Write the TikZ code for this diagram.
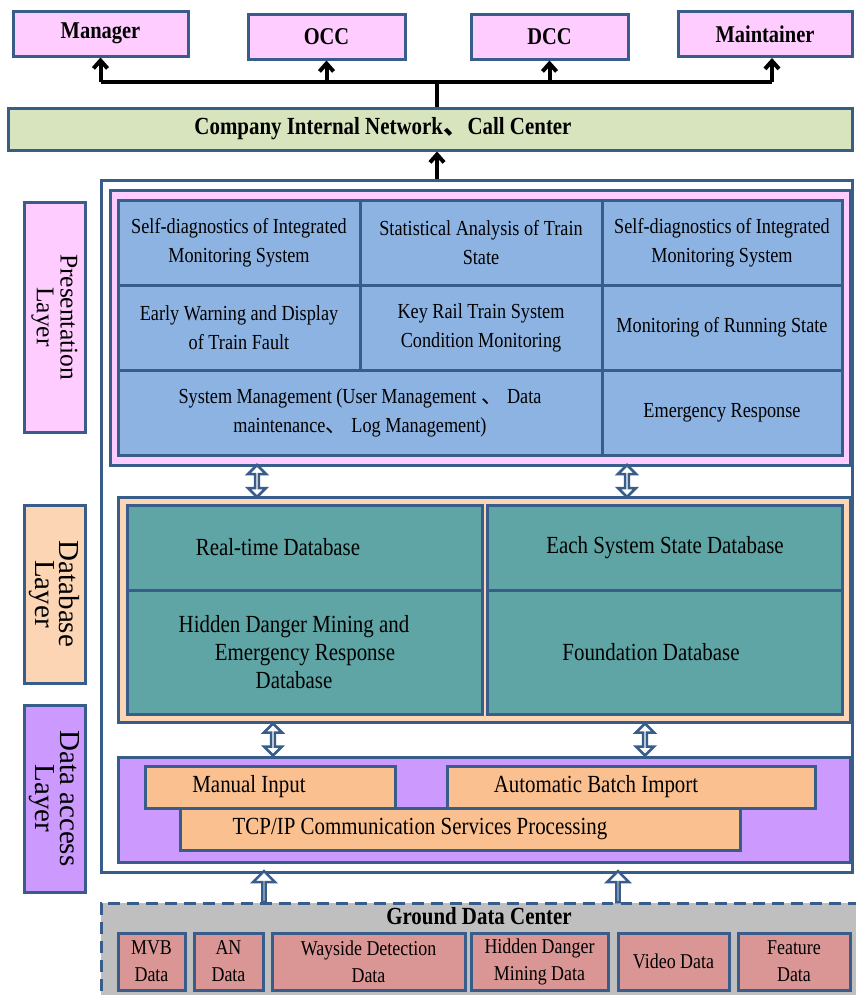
\documentclass[tikz,border=0pt]{standalone}
\usepackage{fontspec}
\setmainfont[FakeStretch=0.85]{Liberation Serif}
\newfontfamily\labelfont{Liberation Serif}
\newfontfamily\cjk{Noto Sans CJK SC}
\usetikzlibrary{arrows.meta,shapes.arrows}

\newdimen\pxu \pxu=0.02cm
\newcommand{\cjkcomma}{{\cjk 、}}

\definecolor{edgeblue}{RGB}{56,93,138}
\definecolor{userpink}{RGB}{255,204,255}
\definecolor{netgreen}{RGB}{215,228,189}
\definecolor{cellblue}{RGB}{141,179,226}
\definecolor{dbpeach}{RGB}{252,213,181}
\definecolor{dbteal}{RGB}{96,165,166}
\definecolor{dapurple}{RGB}{204,153,255}
\definecolor{inorange}{RGB}{250,192,144}
\definecolor{groundgray}{RGB}{191,191,191}
\definecolor{datared}{RGB}{217,150,148}

\tikzset{
  box/.style = {draw=edgeblue, line width=3\pxu, inner sep=0pt, align=center},
  user/.style = {box, fill=userpink, minimum height=45\pxu, font=\fontsize{13.7}{16}\selectfont\bfseries},
  layer/.style = {box, rotate=-90, minimum height=61\pxu, font=\labelfont\fontsize{14.5}{13.5}\selectfont},
  cell/.style = {box, fill=cellblue, minimum height=85\pxu, font=\fontsize{12.2}{16.5}\selectfont},
  dbcell/.style = {box, fill=dbteal, minimum width=355\pxu, font=\fontsize{14}{16}\selectfont},
  inbox/.style = {box, fill=inorange, minimum height=42\pxu, font=\fontsize{14}{16}\selectfont},
  datacell/.style = {box, fill=datared, minimum height=57\pxu, font=\fontsize{12}{15.4}\selectfont},
  uparrow/.style = {-{Straight Barb[length=4.5pt, width=8pt]}, line width=4\pxu},
  twoway/.style = {double arrow, draw=edgeblue, fill=white, line width=2.5\pxu, inner sep=0pt,
    minimum height=32\pxu, minimum width=18\pxu, double arrow head extend=5\pxu, rotate=90},
  oneway/.style = {single arrow, draw=edgeblue, fill=white, line width=2.5\pxu, inner sep=0pt,
    minimum height=31\pxu, minimum width=22\pxu, single arrow head extend=7\pxu, rotate=90}
}

\begin{document}
\begin{tikzpicture}[x=1\pxu, y=-1\pxu]
  \useasboundingbox (0,0) rectangle (856,995);

  % users
  \node[user, minimum width=175\pxu] (manager) at (100.5,33.5) {Manager};
  \node[user, minimum width=157\pxu] (occ) at (326.5,36.5) {OCC};
  \node[user, minimum width=157\pxu] (dcc) at (549.5,36.5) {DCC};
  \node[user, minimum width=174\pxu] (maint) at (765,34) {Maintainer};

  \node[box, fill=netgreen, minimum width=844\pxu, minimum height=42\pxu,
        font=\fontsize{14}{16}\selectfont\bfseries] (net) at (430,129)
        {Company Internal Network\cjkcomma Call Center\hspace*{94\pxu}};

  \coordinate (bus) at (437,82);
  \draw[line width=4\pxu] (manager.south |- bus) -- ([xshift=7\pxu]maint.south |- bus);
  \draw[line width=4\pxu] (bus) -- (bus |- net.north);
  \draw[uparrow] (manager.south |- bus) -- (manager.south);
  \draw[uparrow] (occ.south |- bus) -- (occ.south);
  \draw[uparrow] (dcc.south |- bus) -- (dcc.south);
  \draw[uparrow] ([xshift=7\pxu]maint.south |- bus) -- ([xshift=7\pxu]maint.south);

  % platform frame
  \node[box, fill=white, minimum width=751\pxu, minimum height=692\pxu] (frame) at (476.5,526) {};
  \draw[uparrow] (bus |- frame.north) -- (bus |- net.south);

  % layer labels
  \node[layer, fill=userpink, minimum width=230\pxu] (preslab) at (54.5,317) {Presentation\\Layer};
  \node[layer, fill=dbpeach, minimum width=178\pxu, font=\labelfont\fontsize{16.5}{14}\selectfont] (dblab) at (54.5,594) {Database\\Layer};
  \node[layer, fill=dapurple, minimum width=187\pxu, font=\labelfont\fontsize{16.5}{14}\selectfont] (dalab) at (54.5,798.5) {Data access\\Layer};

  % presentation layer
  \node[box, fill=userpink, minimum width=740\pxu, minimum height=275\pxu] (pres) at (480,327.5) {};
  \node[cell, minimum width=242\pxu] (p11) at (239,242.5) {Self-diagnostics of Integrated\\Monitoring System};
  \node[cell, minimum width=242\pxu] (p12) at (481,242.5) {Statistical Analysis of Train\\State};
  \node[cell, minimum width=240\pxu] (p13) at (722,242.5) {Self-diagnostics of Integrated\\Monitoring System};
  \node[cell, minimum width=242\pxu] (p21) at (239,327.5) {Early Warning and Display\\of Train Fault};
  \node[cell, minimum width=242\pxu] (p22) at (481,327.5) {Key Rail Train System\\Condition Monitoring};
  \node[cell, minimum width=240\pxu] (p23) at (722,327.5) {Monitoring of Running State};
  \node[cell, minimum width=484\pxu] (p31) at (360,412.5)
        {System Management (User Management \cjkcomma\ Data\\maintenance\cjkcomma\ Log Management)};
  \node[cell, minimum width=240\pxu] (p32) at (722,412.5) {Emergency Response};

  % database layer
  \node[box, fill=dbpeach, minimum width=732\pxu, minimum height=225\pxu] (db) at (484,609.5) {};
  \node[dbcell, minimum height=85\pxu] (rtdb) at (305,547.5) {Real-time Database\hspace*{54\pxu}};
  \node[dbcell, minimum height=124\pxu] (hddb) at (305,652) {Hidden Danger Mining and\hspace*{22\pxu}\\Emergency Response\hspace*{22\pxu}\\Database\hspace*{22\pxu}};
  \node[dbcell, minimum height=85\pxu] (ssdb) at (665,547.5) {Each System State Database};
  \node[dbcell, minimum height=124\pxu] (fddb) at (665,652) {Foundation Database\hspace*{28\pxu}};

  % data access layer
  \node[box, fill=dapurple, minimum width=732\pxu, minimum height=105\pxu] (da) at (484,809.5) {};
  \node[inbox, minimum width=250\pxu] (manual) at (270,787) {Manual Input\hspace*{42\pxu}};
  \node[inbox, minimum width=368\pxu] (auto) at (631,787) {Automatic Batch Import\hspace*{70\pxu}};
  \node[inbox, minimum width=560\pxu] (tcp) at (460,829) {TCP/IP Communication Services Processing\hspace*{80\pxu}};

  % links between layers
  \node[twoway] (pd1) at (257,481) {};
  \node[twoway] (pd2) at (627,481) {};
  \node[twoway] (dd1) at (273,739.5) {};
  \node[twoway] (dd2) at (645,739.5) {};

  % ground data center
  \node[box, fill=groundgray, dashed, dash pattern=on 6.8pt off 4pt,
        minimum width=765\pxu, minimum height=102\pxu] (ground) at (483.5,954) {};
  \node[font=\fontsize{14}{16}\selectfont\bfseries] (groundtitle) at (479,916) {Ground Data Center};
  \node[datacell, minimum width=67\pxu] (mvb) at (151.5,961.5) {MVB\\Data};
  \node[datacell, minimum width=69\pxu] (an) at (228.5,961.5) {AN\\Data};
  \node[datacell, minimum width=193\pxu] (wayside) at (368.5,961.5) {Wayside Detection\\Data};
  \node[datacell, minimum width=137\pxu] (hidden) at (539.5,961.5) {Hidden Danger\\Mining Data};
  \node[datacell, minimum width=111\pxu] (video) at (673.5,961.5) {Video Data};
  \node[datacell, minimum width=112\pxu] (feature) at (794,961.5) {Feature\\Data};

  \node[oneway] (gd1) at (264,887.5) {};
  \node[oneway] (gd2) at (618,887.5) {};
\end{tikzpicture}
\end{document}
